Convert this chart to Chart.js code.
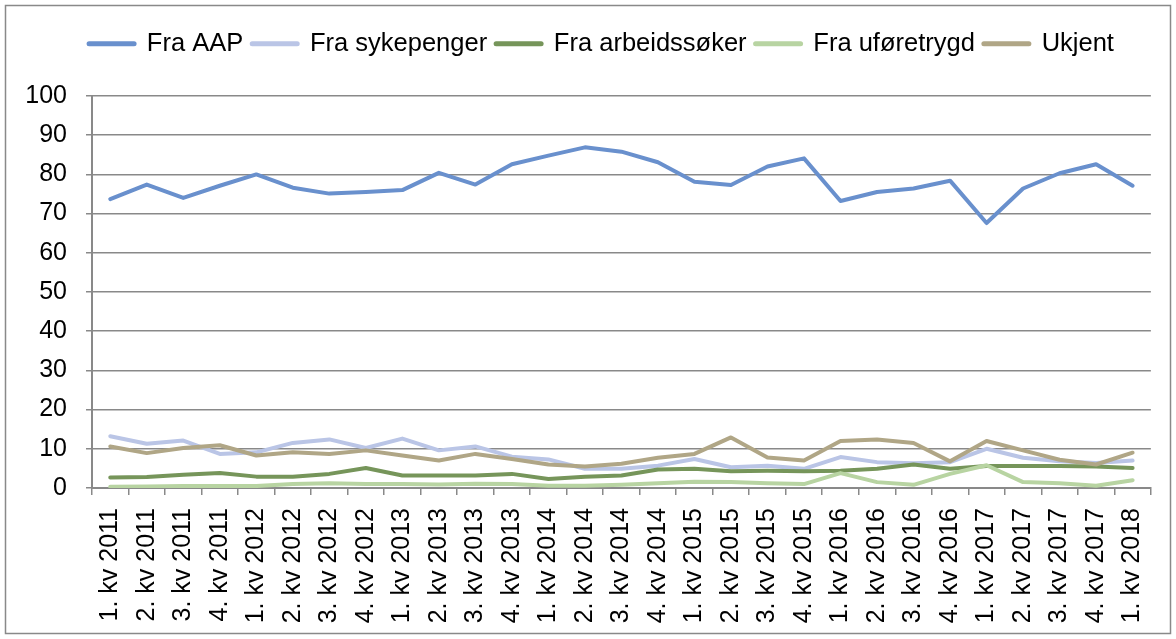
<!DOCTYPE html>
<html>
<head>
<meta charset="utf-8">
<script src="https://cdn.jsdelivr.net/npm/chart.js@4/dist/chart.umd.min.js"></script>
<style>
  body { margin: 0; background: #fff; }
  #boks { width: 1176px; height: 639px; position: relative; }
</style>
</head>
<body>
<div id="boks"><canvas id="graficoOvergang"></canvas></div>
<script>
var kvartaler = ["1. kv 2011", "2. kv 2011", "3. kv 2011", "4. kv 2011",
  "1. kv 2012", "2. kv 2012", "3. kv 2012", "4. kv 2012",
  "1. kv 2013", "2. kv 2013", "3. kv 2013", "4. kv 2013",
  "1. kv 2014", "2. kv 2014", "3. kv 2014", "4. kv 2014",
  "1. kv 2015", "2. kv 2015", "3. kv 2015", "4. kv 2015",
  "1. kv 2016", "2. kv 2016", "3. kv 2016", "4. kv 2016",
  "1. kv 2017", "2. kv 2017", "3. kv 2017", "4. kv 2017",
  "1. kv 2018"];

var fraAap = [73.7, 77.4, 74.0, 77.1, 80.0, 76.6, 75.1, 75.5, 76.0, 80.4, 77.4, 82.6, 84.8, 86.9, 85.8,
  83.1, 78.1, 77.3, 82.0, 84.1, 73.2, 75.5, 76.4, 78.4, 67.6, 76.4, 80.3, 82.6, 77.1];
var fraSykepenger = [13.2, 11.3, 12.1, 8.7, 9.1, 11.5, 12.4, 10.2, 12.6, 9.6, 10.6, 8.0, 7.3, 4.9, 4.9,
  5.7, 7.4, 5.3, 5.7, 4.9, 7.9, 6.6, 6.3, 6.6, 10.0, 7.7, 6.8, 6.4, 7.0];
var fraArbeidssoker = [2.7, 2.8, 3.4, 3.8, 2.9, 2.9, 3.6, 5.1, 3.2, 3.2, 3.2, 3.6, 2.3, 2.9, 3.2,
  4.7, 4.9, 4.3, 4.4, 4.3, 4.4, 4.9, 6.0, 4.9, 5.6, 5.6, 5.6, 5.5, 5.1];
var fraUforetrygd = [0.3, 0.4, 0.5, 0.5, 0.5, 1.0, 1.2, 1.0, 1.0, 0.9, 1.1, 1.0, 0.6, 0.6, 0.8,
  1.2, 1.6, 1.5, 1.2, 1.0, 3.8, 1.5, 0.8, 3.6, 5.8, 1.5, 1.2, 0.6, 2.0];
var ukjent = [10.6, 8.9, 10.2, 10.9, 8.3, 9.1, 8.7, 9.6, 8.3, 7.0, 8.7, 7.4, 6.0, 5.5, 6.2,
  7.7, 8.7, 12.9, 7.8, 7.0, 12.0, 12.4, 11.5, 6.8, 12.0, 9.6, 7.2, 6.0, 9.0];

var yMin = 0, yMax = 100, yStep = 10;

var font = "'Liberation Sans', Arial, sans-serif";
var grå = "#898989";

// ramme rundt hele diagrammet + fast høyde og litt forskyvning av forklaringen
var ramme = {
  id: 'ramme',
  beforeInit: function(chart) {
    var legend = chart.legend;
    var fit = legend.fit;
    var draw = legend.draw;
    legend.fit = function() {
      fit.call(this);
      this.height = 74;
    };
    legend.draw = function() {
      var ctx = this.ctx;
      ctx.save();
      ctx.translate(20, 0);
      draw.call(this);
      ctx.restore();
    };
  },
  afterDraw: function(chart) {
    var ctx = chart.ctx;
    ctx.save();
    ctx.strokeStyle = grå;
    ctx.lineWidth = 1.5;
    ctx.strokeRect(5.5, 5.5, 1165, 628);
    ctx.restore();
  }
};

function serie(navn, data, farge, rekke) {
  return {
    label: navn,
    data: data,
    borderColor: farge,
    backgroundColor: farge,
    borderWidth: 4,
    pointRadius: 0,
    tension: 0,
    borderJoinStyle: 'round',
    borderCapStyle: 'round',
    order: rekke
  };
}

function tegnGrafikk() {
  var lerret = document.getElementById("graficoOvergang");

  new Chart(lerret, {
    type: 'line',
    data: {
      labels: kvartaler,
      datasets: [
        serie('Fra AAP', fraAap, '#6990CD', 4),
        serie('Fra sykepenger', fraSykepenger, '#BAC5E6', 3),
        serie('Fra arbeidssøker', fraArbeidssoker, '#76955A', 2),
        serie('Fra uføretrygd', fraUforetrygd, '#B8D4A2', 1),
        serie('Ukjent', ukjent, '#B0A686', 0)
      ]
    },
    options: {
      responsive: true,
      maintainAspectRatio: false,
      animation: false,
      layout: { padding: { top: 22, left: 10, right: 23, bottom: 10 } },
      plugins: {
        tooltip: { enabled: false },
        legend: {
          position: 'top',
          labels: {
            font: { family: font, size: 25.5 },
            color: '#000',
            usePointStyle: true,
            pointStyle: 'line',
            pointStyleWidth: 45,
            padding: 9,
            sort: function(a, b) { return a.datasetIndex - b.datasetIndex; },
            generateLabels: function(chart) {
              var items = Chart.defaults.plugins.legend.labels.generateLabels(chart);
              items.forEach(function(it) { it.lineWidth = 5; it.lineCap = 'round'; });
              return items;
            }
          }
        }
      },
      scales: {
        x: {
          offset: true,
          afterFit: function(scale) { scale.height = 141; },
          grid: { offset: true, drawOnChartArea: false, drawTicks: true, tickLength: 7, color: grå, lineWidth: 1.5 },
          border: { color: grå, width: 2 },
          ticks: {
            autoSkip: false,
            minRotation: 90,
            maxRotation: 90,
            padding: 13,
            color: '#000',
            font: { family: font, size: 25 }
          }
        },
        y: {
          min: yMin,
          max: yMax,
          afterFit: function(scale) { scale.width = 82; },
          grid: { color: grå, lineWidth: 1.5, tickLength: 6 },
          border: { color: grå, width: 2 },
          ticks: {
            stepSize: yStep,
            padding: 19,
            color: '#000',
            font: { family: font, size: 25 }
          }
        }
      }
    },
    plugins: [ramme]
  });
}

tegnGrafikk();
</script>
</body>
</html>
